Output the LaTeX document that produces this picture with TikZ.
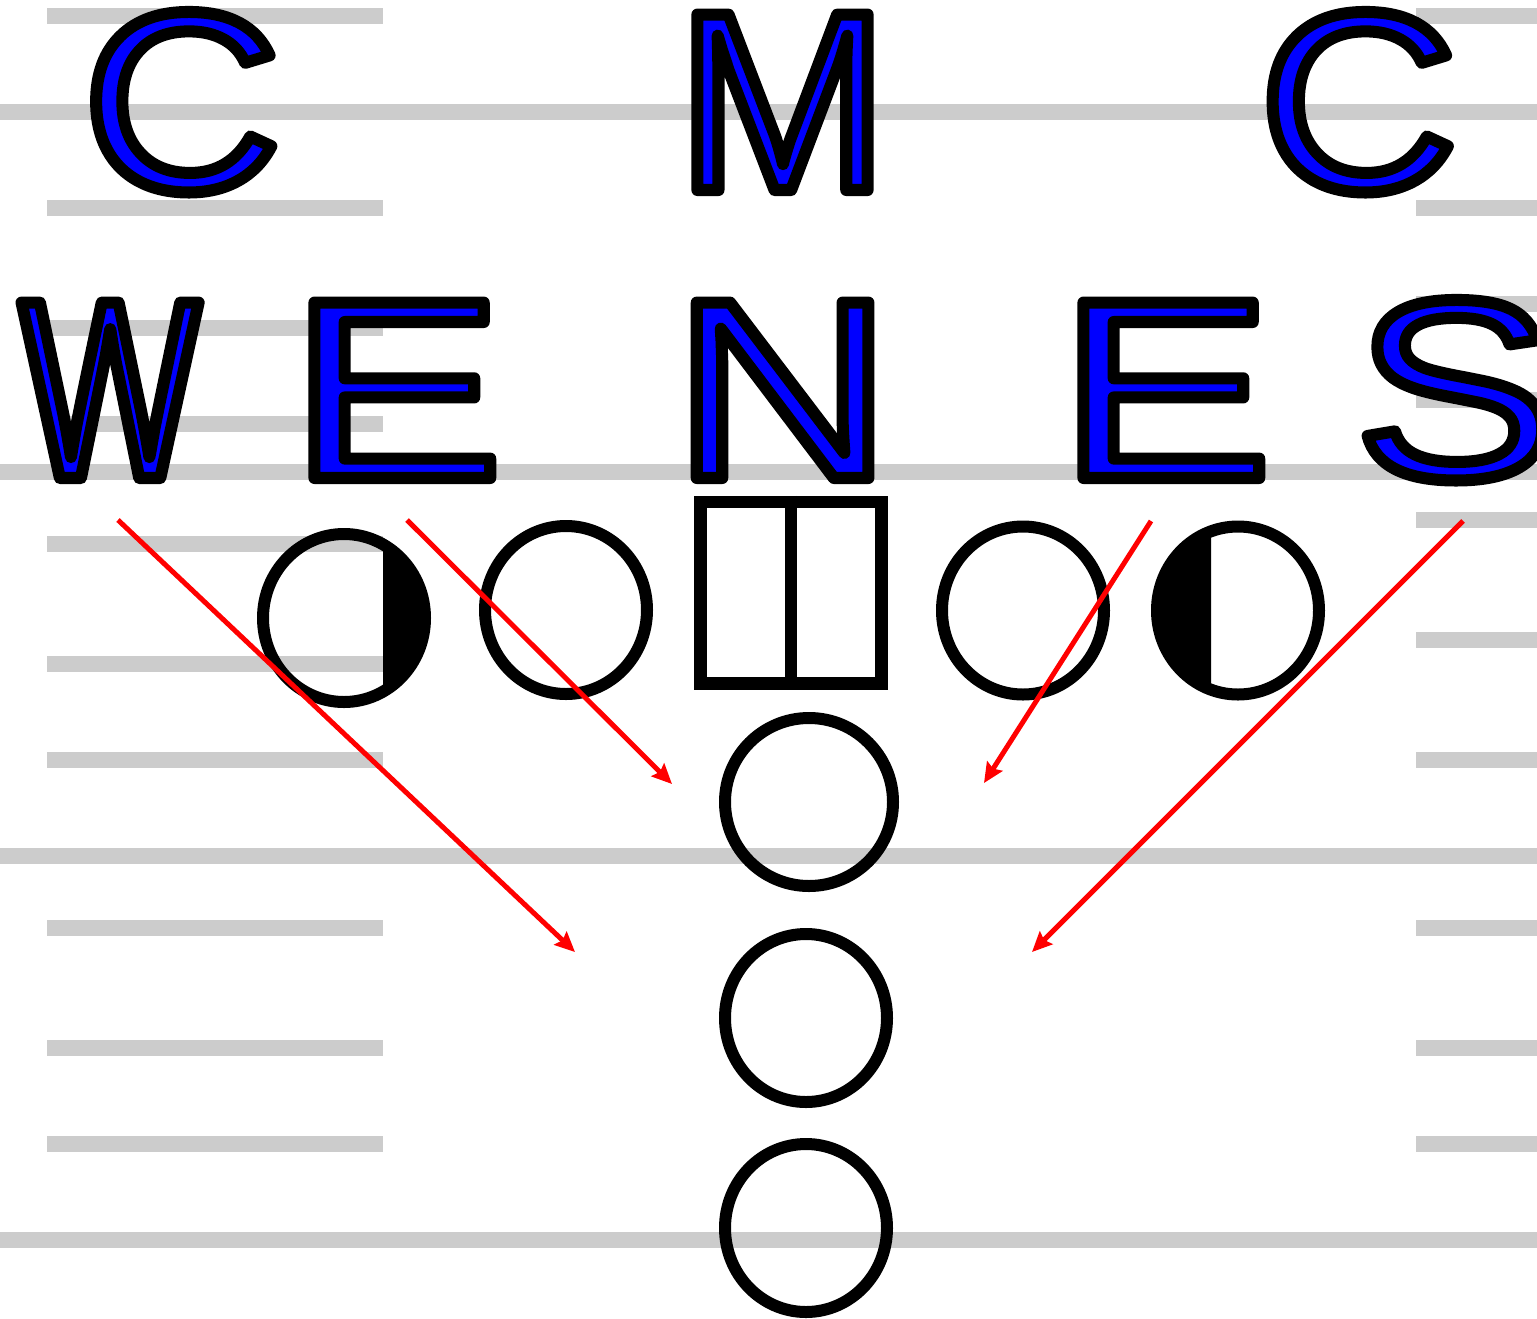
\documentclass[tikz,border=0pt]{standalone}
\usepackage{fontspec}
\setmainfont{Liberation Sans}
\newfontfamily\fC[FakeStretch=1.085]{Liberation Sans}
\newfontfamily\fM[FakeStretch=0.998]{Liberation Sans}
\newfontfamily\fW[FakeStretch=0.742]{Liberation Sans}
\newfontfamily\fE[FakeStretch=1.272]{Liberation Sans}
\newfontfamily\fN[FakeStretch=1.205]{Liberation Sans}
\newfontfamily\fS[FakeStretch=1.19]{Liberation Sans}
\usetikzlibrary{arrows.meta,shapes.geometric}
\definecolor{letterblue}{RGB}{0,0,255}
\definecolor{fieldgray}{RGB}{204,204,204}
\definecolor{routered}{RGB}{255,0,0}
\newcommand\outl[2]{{#1\fontsize{255}{255}\selectfont\color{letterblue}\special{pdf:literal direct 0 G 12 w 1 j 1 J 2 Tr}#2\special{pdf:literal direct 0 Tr}}}
\tikzset{
  yardline/.style={fieldgray, line width=16pt},
  hashmark/.style={fieldgray, line width=16pt},
  letter/.style={inner sep=0pt, outer sep=0pt, anchor=base},
  player/.style={draw=black, ellipse, line width=12pt, inner sep=0pt, minimum width=162pt, minimum height=168pt},
  centerbox/.style={draw=black, rectangle, line width=12.5pt, inner sep=0pt, minimum width=181pt, minimum height=181.5pt},
  route/.style={routered, line width=5pt, -{Stealth[length=20pt,width=18pt,inset=3pt]}}
}
\begin{document}
\begin{tikzpicture}[x=1pt,y=-1pt]
\useasboundingbox (0,0) rectangle (1537,1318);
\fill[white] (0,0) rectangle (1537,1318);
% yard lines
\foreach \yy in {112,472,856,1240} \draw[yardline] (0,\yy) -- (1537,\yy);
% hash marks
\foreach \yy in {16,208,328,424,544,664,760,928,1048,1144} \draw[hashmark] (47,\yy) -- (383,\yy);
\foreach \yy in {16,208,304,400,520,640,760,928,1048,1144} \draw[hashmark] (1416,\yy) -- (1537,\yy);
% defensive letters
\node[letter] (lc1) at (182,190) {\outl\fC{C}};
\node[letter] (lm)  at (782.5,190) {\outl\fM{M}};
\node[letter] (lc2) at (1358.5,190) {\outl\fC{C}};
\node[letter] (lw)  at (110,478) {\outl\fW{W}};
\node[letter] (le1) at (396,478) {\outl\fE{E}};
\node[letter] (ln)  at (782.5,478) {\outl\fN{N}};
\node[letter] (le2) at (1165,478) {\outl\fE{E}};
\node[letter] (ls)  at (1455,478) {\outl\fS{S}};
% offensive players
\begin{scope}
  \clip (383,500) rectangle (450,720);
  \fill (344,618) ellipse [x radius=81pt, y radius=84pt];
\end{scope}
\begin{scope}
  \clip (1140,500) rectangle (1211,720);
  \fill (1238,610.5) ellipse [x radius=81pt, y radius=84pt];
\end{scope}
\node[player] (lt) at (344,618) {};
\node[player] (lg) at (566,610) {};
\node[centerbox] (ctr) at (791,592.75) {};
\draw[line width=12pt] (ctr.north) -- (ctr.south);
\node[player] (rg) at (1023,610.5) {};
\node[player] (rt) at (1238,610.5) {};
\node[player, minimum width=168pt] (qb) at (809,802) {};
\node[player] (hb) at (806,1018) {};
\node[player] (fb) at (806,1228) {};
% rush routes
\coordinate (a1s) at (118,520);  \coordinate (a1e) at (575,952);
\coordinate (a2s) at (407,520);  \coordinate (a2e) at (672,784);
\coordinate (a3s) at (1151,521); \coordinate (a3e) at (984,783);
\coordinate (a4s) at (1463,521); \coordinate (a4e) at (1032,952);
\draw[route] (a1s) -- (a1e);
\draw[route] (a2s) -- (a2e);
\draw[route] (a3s) -- (a3e);
\draw[route] (a4s) -- (a4e);
\end{tikzpicture}
\end{document}
